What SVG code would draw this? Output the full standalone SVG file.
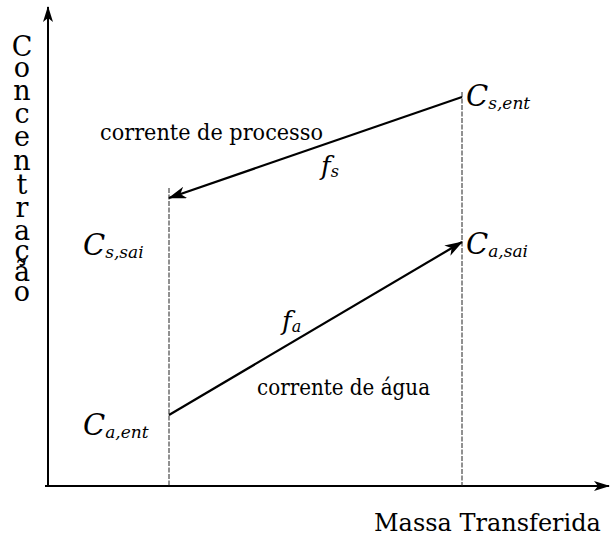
<svg xmlns="http://www.w3.org/2000/svg" width="610" height="538" viewBox="0 0 610 538">
<style>
.t{font-family:"DejaVu Serif","Liberation Serif",serif;fill:#000}
.i{font-family:"DejaVu Serif","Liberation Serif",serif;font-style:italic;fill:#000}
.ax{stroke:#000;stroke-width:2;fill:none}
.guide{stroke:#222;stroke-width:1;stroke-dasharray:5 1.5;fill:none}
.flow{stroke:#000;stroke-width:2.2;fill:none}
</style>
<defs>
<marker id="axh" viewBox="0 0 16 10" refX="15" refY="5" markerWidth="16" markerHeight="10" markerUnits="userSpaceOnUse" orient="auto">
<path d="M0,0 L16,5 L0,10 L4,5 z" fill="#000"/>
</marker>
<marker id="fh" viewBox="0 0 18 12" refX="17" refY="6" markerWidth="18" markerHeight="12" markerUnits="userSpaceOnUse" orient="auto">
<path d="M0,0 L18,6 L0,12 L5,6 z" fill="#000"/>
</marker>
</defs>
<g id="axes">
<line class="ax" x1="48" y1="487" x2="48" y2="7" marker-end="url(#axh)"/>
<line class="ax" x1="45" y1="486" x2="609" y2="486" marker-end="url(#axh)"/>
</g>
<g id="guides">
<line class="guide" x1="169" y1="188" x2="169" y2="486"/>
<line class="guide" x1="462" y1="92" x2="462" y2="486"/>
</g>
<g id="connectors">
<line id="fs-line" class="flow" x1="462" y1="97" x2="169" y2="198" marker-end="url(#fh)"/>
<line id="fa-line" class="flow" x1="169" y1="415" x2="462" y2="242" marker-end="url(#fh)"/>
</g>
<g id="y-label">
<text class="t" font-size="27" text-anchor="middle"><tspan x="22" y="56">C</tspan><tspan x="22" y="77">o</tspan><tspan x="22" y="100">n</tspan><tspan x="22" y="123">c</tspan><tspan x="22" y="146">e</tspan><tspan x="22" y="170">n</tspan><tspan x="22" y="194">t</tspan><tspan x="22" y="217">r</tspan><tspan x="22" y="240">a</tspan><tspan x="22" y="260">ç</tspan><tspan x="22" y="281">ã</tspan><tspan x="22" y="301">o</tspan></text>
</g>
<g id="x-label">
<text class="t" x="374" y="531" font-size="24">Massa Transferida</text>
</g>
<g id="process-stream">
<text class="t" x="100" y="140" font-size="23" textLength="223" lengthAdjust="spacingAndGlyphs">corrente de processo</text>
<text class="i" x="321" y="175" font-size="26">f<tspan font-size="16" dy="2">s</tspan></text>
</g>
<g id="water-stream">
<text class="t" x="257" y="395" font-size="23" textLength="173" lengthAdjust="spacingAndGlyphs">corrente de água</text>
<text class="i" x="282" y="330" font-size="26">f<tspan font-size="16" dy="2">a</tspan></text>
</g>
<g id="Cs-ent"><text class="i" x="466" y="106" font-size="29">C<tspan font-size="17" dy="3">s,ent</tspan></text></g>
<g id="Ca-sai"><text class="i" x="466" y="254" font-size="29">C<tspan font-size="17" dy="3">a,sai</tspan></text></g>
<g id="Cs-sai"><text class="i" x="83" y="255" font-size="29">C<tspan font-size="17" dy="3">s,sai</tspan></text></g>
<g id="Ca-ent"><text class="i" x="83" y="435" font-size="29">C<tspan font-size="17" dy="3">a,ent</tspan></text></g>
</svg>
